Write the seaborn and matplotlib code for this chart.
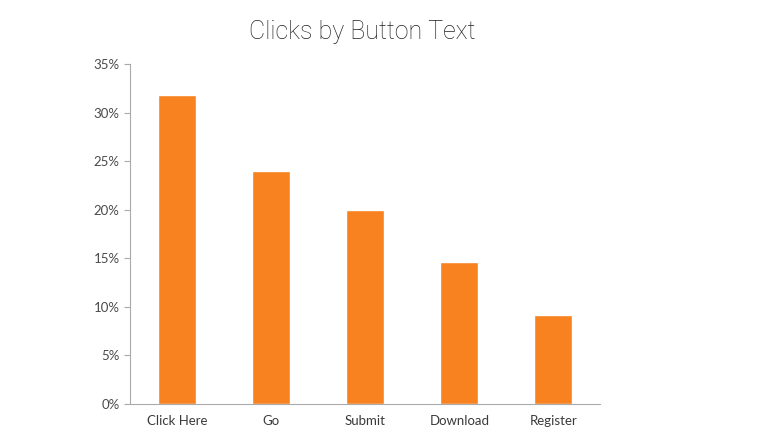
import pandas as pd
import seaborn as sns
import matplotlib.pyplot as plt
from matplotlib.ticker import FuncFormatter, FixedLocator

buttons = ["Click Here", "Go", "Submit", "Download", "Register"]
clicks = [31.8, 24.0, 20.0, 14.6, 9.2]

df = pd.DataFrame({"Button": buttons, "Clicks": clicks})

sns.set_style("white")
plt.rcParams["font.family"] = ["Lato", "DejaVu Sans"]

fig = plt.figure(figsize=(7.57, 4.41), dpi=100)
ax = fig.add_axes([0.172, 0.084, 0.621, 0.771])

sns.barplot(data=df, x="Button", y="Clicks", color="#F7821F", width=0.4,
            saturation=1, ax=ax)

ax.set_ylim(0, 35)
ax.set_xlim(-0.5, len(buttons) - 0.5)
ax.set_yticks(range(0, 36, 5))
ax.yaxis.set_major_formatter(FuncFormatter(lambda v, p: f"{int(v)}%"))
ax.set_xlabel("")
ax.set_ylabel("")

# category boundary ticks on the x axis
ax.xaxis.set_minor_locator(FixedLocator([i + 0.5 for i in range(len(buttons) - 1)]))
ax.tick_params(axis="x", which="major", length=0, pad=8, labelsize=9.5, labelcolor="#3a3a3a")
ax.tick_params(axis="x", which="minor", length=4, color="#aaaaaa", direction="out")
ax.tick_params(axis="y", length=4, color="#aaaaaa", labelsize=9.5, labelcolor="#4a4a4a",
               direction="out", left=True)

for side in ["top", "right"]:
    ax.spines[side].set_visible(False)
for side in ["left", "bottom"]:
    ax.spines[side].set_color("#aaaaaa")
    ax.spines[side].set_linewidth(0.8)

fig.suptitle("Clicks by Button Text", x=0.478, y=0.955, fontsize=18,
             color="#222222", fontweight="light", family=["Roboto", "DejaVu Sans"])

fig.savefig("out.png", dpi=100)
